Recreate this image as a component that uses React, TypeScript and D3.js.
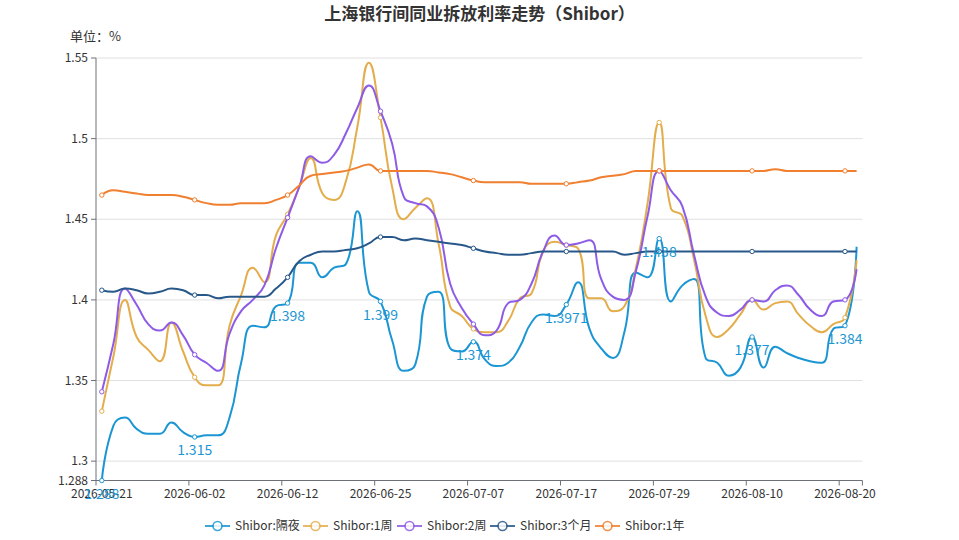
import React from "react";
import * as d3 from "d3";

const dates = [
  "2026-05-21","2026-05-22","2026-05-25","2026-05-26","2026-05-27","2026-05-28","2026-05-29","2026-06-01","2026-06-02","2026-06-03",
  "2026-06-04","2026-06-05","2026-06-08","2026-06-09","2026-06-10","2026-06-11","2026-06-12","2026-06-15","2026-06-16","2026-06-17",
  "2026-06-18","2026-06-22","2026-06-23","2026-06-24","2026-06-25","2026-06-26","2026-06-29","2026-06-30","2026-07-01","2026-07-02",
  "2026-07-03","2026-07-06","2026-07-07","2026-07-08","2026-07-09","2026-07-10","2026-07-13","2026-07-14","2026-07-15","2026-07-16",
  "2026-07-17","2026-07-20","2026-07-21","2026-07-22","2026-07-23","2026-07-24","2026-07-27","2026-07-28","2026-07-29","2026-07-30",
  "2026-07-31","2026-08-03","2026-08-04","2026-08-05","2026-08-06","2026-08-07","2026-08-10","2026-08-11","2026-08-12","2026-08-13",
  "2026-08-14","2026-08-17","2026-08-18","2026-08-19","2026-08-20","2026-08-21",
];

const overnight = [
  1.288, 1.322, 1.327, 1.320, 1.317, 1.317, 1.324, 1.318, 1.315, 1.316, 1.316, 1.327, 1.361, 1.384, 1.383, 1.396, 1.398,
  1.423, 1.423, 1.414, 1.420, 1.422, 1.455, 1.405, 1.399, 1.375, 1.356, 1.360, 1.402, 1.405, 1.370, 1.368, 1.374,
  1.363, 1.359, 1.361, 1.371, 1.386, 1.391, 1.390, 1.3971, 1.411, 1.382, 1.370, 1.364, 1.380, 1.417, 1.414, 1.438,
  1.399, 1.409, 1.413, 1.364, 1.361, 1.353, 1.358, 1.377, 1.358, 1.371, 1.367, 1.364, 1.362, 1.361, 1.382, 1.384, 1.433,
];
const week1 = [
  1.331, 1.365, 1.400, 1.377, 1.369, 1.362, 1.386, 1.368, 1.352, 1.347, 1.347, 1.384, 1.403, 1.420, 1.411, 1.440, 1.453,
  1.470, 1.488, 1.466, 1.462, 1.473, 1.507, 1.547, 1.513, 1.470, 1.450, 1.457, 1.463, 1.435, 1.396, 1.390, 1.382,
  1.380, 1.380, 1.387, 1.401, 1.404, 1.430, 1.436, 1.434, 1.432, 1.401, 1.401, 1.393, 1.396, 1.420, 1.460, 1.510,
  1.457, 1.452, 1.425, 1.390, 1.377, 1.382, 1.391, 1.400, 1.394, 1.398, 1.399, 1.391, 1.384, 1.380, 1.385, 1.389, 1.425,
];
const week2 = [
  1.343, 1.373, 1.407, 1.397, 1.385, 1.381, 1.386, 1.378, 1.366, 1.361, 1.356, 1.379, 1.393, 1.400, 1.409, 1.432, 1.451,
  1.470, 1.489, 1.485, 1.490, 1.503, 1.519, 1.533, 1.517, 1.497, 1.464, 1.460, 1.458, 1.445, 1.410, 1.395, 1.385,
  1.378, 1.381, 1.398, 1.400, 1.410, 1.430, 1.440, 1.434, 1.435, 1.437, 1.413, 1.402, 1.400, 1.418, 1.452, 1.480,
  1.468, 1.458, 1.428, 1.402, 1.392, 1.390, 1.394, 1.400, 1.399, 1.406, 1.409, 1.403, 1.394, 1.390, 1.399, 1.400, 1.419,
];
const month3 = [
  1.406, 1.405, 1.407, 1.406, 1.404, 1.405, 1.407, 1.406, 1.403, 1.403, 1.401, 1.402, 1.402, 1.402, 1.402, 1.407, 1.414,
  1.424, 1.428, 1.430, 1.430, 1.431, 1.432, 1.435, 1.439, 1.439, 1.437, 1.438, 1.437, 1.436, 1.435, 1.434, 1.432,
  1.430, 1.429, 1.428, 1.428, 1.429, 1.430, 1.430, 1.430, 1.430, 1.430, 1.430, 1.430, 1.428, 1.429, 1.430, 1.430,
  1.430, 1.430, 1.430, 1.430, 1.430, 1.430, 1.430, 1.430, 1.430, 1.430, 1.430, 1.430, 1.430, 1.430, 1.430, 1.430, 1.430,
];
const year1 = [
  1.465, 1.468, 1.467, 1.466, 1.465, 1.465, 1.465, 1.464, 1.462, 1.460, 1.459, 1.459, 1.460, 1.460, 1.460, 1.462, 1.465,
  1.471, 1.477, 1.478, 1.479, 1.480, 1.482, 1.484, 1.480, 1.480, 1.480, 1.480, 1.480, 1.479, 1.478, 1.476, 1.474,
  1.473, 1.473, 1.473, 1.473, 1.472, 1.472, 1.472, 1.472, 1.473, 1.474, 1.476, 1.477, 1.478, 1.480, 1.480, 1.480,
  1.480, 1.480, 1.480, 1.480, 1.480, 1.480, 1.480, 1.480, 1.480, 1.481, 1.480, 1.480, 1.480, 1.480, 1.480, 1.480, 1.480,
];

const seriesNames = ["Shibor:隔夜", "Shibor:1周", "Shibor:2周", "Shibor:3个月", "Shibor:1年"];
const seriesData = [overnight, week1, week2, month3, year1];
const seriesColors = ["#1b96d3", "#e4ad4c", "#8d5be6", "#28588a", "#f07f2f"];
const yTicks = [1.288, 1.3, 1.35, 1.4, 1.45, 1.5, 1.55];
const yMin = 1.288;
const yMax = 1.55;

const W = 959, H = 540;
const FONT = '"Microsoft YaHei", "Noto Sans CJK SC", "Noto Sans", sans-serif';
const LEFT = 96, RIGHT = 862.4, TOP = 58, BOTTOM = 480.5;

function echartsSmooth(pts: [number, number][], smooth = 0.5): string {
  let d = "";
  let prevX = 0, prevY = 0, cpx0 = 0, cpy0 = 0, cpx1 = 0, cpy1 = 0;
  const n = pts.length;
  for (let k = 0; k < n; k++) {
    const [x, y] = pts[k];
    if (k === 0) {
      d += `M${x},${y}`;
      cpx0 = x; cpy0 = y;
    } else {
      let nextCpx0 = x, nextCpy0 = y;
      if (k + 1 >= n) {
        cpx1 = x; cpy1 = y;
      } else {
        const [nextX, nextY] = pts[k + 1];
        let vx = nextX - prevX, vy = nextY - prevY;
        const dx0 = x - prevX, dx1 = nextX - x, dy0 = y - prevY, dy1 = nextY - y;
        const lenPrev = Math.sqrt(dx0 * dx0 + dy0 * dy0);
        const lenNext = Math.sqrt(dx1 * dx1 + dy1 * dy1);
        const ratio = lenNext / (lenNext + lenPrev);
        nextCpx0 = x + vx * smooth * ratio;
        nextCpy0 = y + vy * smooth * ratio;
        nextCpx0 = Math.min(nextCpx0, Math.max(nextX, x));
        nextCpy0 = Math.min(nextCpy0, Math.max(nextY, y));
        nextCpx0 = Math.max(nextCpx0, Math.min(nextX, x));
        nextCpy0 = Math.max(nextCpy0, Math.min(nextY, y));
        vx = nextCpx0 - x; vy = nextCpy0 - y;
        cpx1 = x - vx * lenPrev / lenNext;
        cpy1 = y - vy * lenPrev / lenNext;
        cpx1 = Math.min(cpx1, Math.max(prevX, x));
        cpy1 = Math.min(cpy1, Math.max(prevY, y));
        cpx1 = Math.max(cpx1, Math.min(prevX, x));
        cpy1 = Math.max(cpy1, Math.min(prevY, y));
        vx = x - cpx1; vy = y - cpy1;
        nextCpx0 = x + vx * lenNext / lenPrev;
        nextCpy0 = y + vy * lenNext / lenPrev;
      }
      d += `C${cpx0},${cpy0},${cpx1},${cpy1},${x},${y}`;
      cpx0 = nextCpx0; cpy0 = nextCpy0;
    }
    prevX = x; prevY = y;
  }
  return d;
}

const legendX = [205, 303, 397, 490, 595];

export default function App() {
  const x = d3.scaleBand<string>().domain(dates).range([LEFT, RIGHT]).paddingInner(0).paddingOuter(0);
  const bw = x.bandwidth();
  const cx = (i: number) => (x(dates[i]) as number) + bw / 2;
  const y = d3.scaleLinear().domain([yMin, yMax]).range([BOTTOM, TOP]);
  const labelIdx = dates.map((_, i) => i).filter((i) => i % 8 === 0);

  return (
    <svg width={W} height={H} style={{ position: "absolute", left: 0, top: 0, background: "#fff" }} fontFamily={FONT}>
      <text x={W / 2} y={20} textAnchor="middle" fontSize={17} fontWeight="bold" fill="#333">
        上海银行间同业拆放利率走势（Shibor）
      </text>
      <text x={70} y={41} fontSize={13} fill="#333">单位：%</text>

      {yTicks.map((t) => (
        <g key={t}>
          {t !== yMin && <line x1={LEFT} x2={RIGHT} y1={y(t)} y2={y(t)} stroke="#e0e0e0" strokeWidth={1} />}
          <line x1={LEFT - 5} x2={LEFT} y1={y(t)} y2={y(t)} stroke="#6e7079" />
          <text x={LEFT - 8} y={y(t)} dy="0.35em" textAnchor="end" fontSize={12} fill="#333">{String(t)}</text>
        </g>
      ))}
      <line x1={LEFT} x2={LEFT} y1={TOP} y2={BOTTOM} stroke="#6e7079" />
      <line x1={LEFT} x2={RIGHT} y1={BOTTOM} y2={BOTTOM} stroke="#6e7079" />
      {labelIdx.map((i) => (
        <g key={i}>
          <line x1={x(dates[i]) as number} x2={x(dates[i]) as number} y1={BOTTOM} y2={BOTTOM + 5} stroke="#6e7079" />
          <text x={cx(i)} y={BOTTOM + 17} textAnchor="middle" fontSize={12} fill="#333">{dates[i]}</text>
        </g>
      ))}
      <line x1={RIGHT} x2={RIGHT} y1={BOTTOM} y2={BOTTOM + 5} stroke="#6e7079" />

      {seriesData.map((data, s) => {
        const pts = data.map((v, i) => [cx(i), y(v)] as [number, number]);
        return (
          <g key={s}>
            <path d={echartsSmooth(pts)} fill="none" stroke={seriesColors[s]} strokeWidth={2} strokeLinejoin="round" />
            {labelIdx.map((i) => (
              <circle key={i} cx={cx(i)} cy={y(data[i])} r={2.2} fill="#fff" stroke={seriesColors[s]} strokeWidth={1} />
            ))}
          </g>
        );
      })}
      {labelIdx.map((i) => (
        <text key={i} x={cx(i)} y={y(overnight[i]) + 7} dy="0.8em" textAnchor="middle" fontSize={14} fill={seriesColors[0]}>
          {String(overnight[i])}
        </text>
      ))}

      {seriesNames.map((name, s) => (
        <g key={name} transform={`translate(${legendX[s]},526)`}>
          <line x1={0} x2={25} y1={0} y2={0} stroke={seriesColors[s]} strokeWidth={2} opacity={0.85} />
          <circle cx={12.5} cy={0} r={4.5} fill="#fff" stroke={seriesColors[s]} strokeWidth={1.6} opacity={0.85} />
          <text x={30} y={0} dy="0.35em" fontSize={12} fill="#333">{name}</text>
        </g>
      ))}
    </svg>
  );
}
